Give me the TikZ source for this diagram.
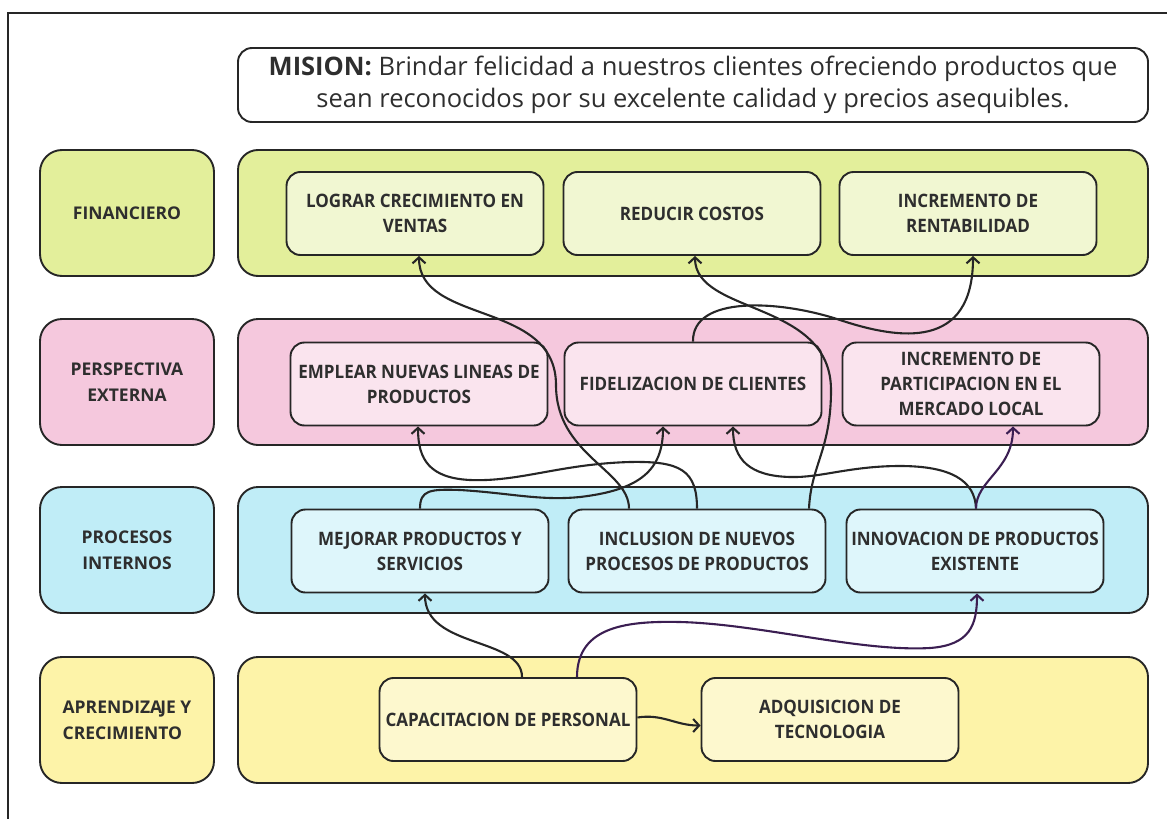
\documentclass[tikz,border=0pt]{standalone}
\usepackage{fontspec}
\setmainfont{Open Sans}
\newfontfamily\condfont[FakeStretch=0.92]{Open Sans}
\usetikzlibrary{arrows.meta}

\definecolor{linec}{HTML}{262626}
\definecolor{txtc}{HTML}{2E2E2E}
\definecolor{purp}{HTML}{3B1E52}
\definecolor{finrow}{HTML}{E3EF9B}
\definecolor{fingoal}{HTML}{F1F7D2}
\definecolor{perrow}{HTML}{F5C8DD}
\definecolor{pergoal}{HTML}{FAE4EE}
\definecolor{prorow}{HTML}{C0EDF7}
\definecolor{progoal}{HTML}{DEF6FB}
\definecolor{aprrow}{HTML}{FDF3A8}
\definecolor{aprgoal}{HTML}{FDF8CE}

\begin{document}
\begin{tikzpicture}[x=1pt,y=-1pt,
    rowbox/.style={draw=linec, line width=1.9pt, rounded corners=20pt, minimum width=910pt, minimum height=126pt},
    tagbox/.style={draw=linec, line width=1.9pt, rounded corners=22pt, minimum width=174pt, minimum height=126pt,
        text=txtc, font=\fontsize{17.5}{26}\selectfont\bfseries, align=center},
    goalbox/.style={draw=linec, line width=1.9pt, rounded corners=14pt, minimum width=257pt, minimum height=83pt,
        text=txtc, font=\fontsize{18.5}{25}\selectfont\condfont\bfseries, align=center},
    link/.style={draw=linec, line width=2.1pt, -{Straight Barb[length=6pt,width=13pt]}}]
        \useasboundingbox (0,0) rectangle (1167,819);

        % Frame
        \draw[linec, line width=1.6pt] (8,819) -- (8,13) -- (1167,13);

        % Mission
        \node[draw=linec, line width=1.9pt, rounded corners=14pt, minimum width=910pt, minimum height=74pt,
            text=txtc, font=\fontsize{25.5}{32}\selectfont, align=center] (mision) at (693,85)
            {\textbf{MISION:} Brindar felicidad a nuestros clientes ofreciendo productos que\\
             sean reconocidos por su excelente calidad y precios asequibles.};

        % Perspectives (left column)
        \node[tagbox, fill=finrow] (tagfin) at (127,213) {FINANCIERO};
        \node[tagbox, fill=perrow] (tagper) at (127,382) {PERSPECTIVA\\EXTERNA};
        \node[tagbox, fill=prorow] (tagpro) at (127,550) {PROCESOS\\INTERNOS};
        \node[tagbox, fill=aprrow, align=left] (tagapr) at (127,720) {APRENDIZA\kern-2pt JE Y\\CRECIMIENTO};

        % Rows
        \node[rowbox, fill=finrow] (rowfin) at (693,213) {};
        \node[rowbox, fill=perrow] (rowper) at (693,382) {};
        \node[rowbox, fill=prorow] (rowpro) at (693,550) {};
        \node[rowbox, fill=aprrow] (rowapr) at (693,720) {};

        % Objectives
        \node[goalbox, fill=fingoal] (logr) at (415,213.5) {LOGRAR CRECIMIENTO EN\\VENTAS};
        \node[goalbox, fill=fingoal] (redu) at (692,213.5) {REDUCIR COSTOS};
        \node[goalbox, fill=fingoal] (rent) at (968,213.5) {INCREMENTO DE\\RENTABILIDAD};

        \node[goalbox, fill=pergoal] (empl) at (419,384) {EMPLEAR NUEVAS LINEAS DE\\PRODUCTOS};
        \node[goalbox, fill=pergoal] (fide) at (693,384) {FIDELIZACION DE CLIENTES};
        \node[goalbox, fill=pergoal] (part) at (971,384) {INCREMENTO DE\\PARTICIPACION EN EL\\MERCADO LOCAL};

        \node[goalbox, fill=progoal] (mejo) at (420,551) {MEJORAR PRODUCTOS Y\\SERVICIOS};
        \node[goalbox, fill=progoal] (incl) at (697,551) {INCLUSION DE NUEVOS\\PROCESOS DE PRODUCTOS};
        \node[goalbox, fill=progoal] (inno) at (975,551) {INNOVACION DE PRODUCTOS\\EXISTENTE};

        \node[goalbox, fill=aprgoal] (capa) at (508,719.5) {CAPACITACION DE PERSONAL};
        \node[goalbox, fill=aprgoal] (adqu) at (830,719.5) {ADQUISICION DE\\TECNOLOGIA};

        % Links from aprendizaje
        \draw[link] ([xshift=14pt]capa.north) .. controls +(0,-40) and +(0,55) .. ([xshift=5pt]mejo.south);
        \draw[link, draw=purp] ([xshift=69pt]capa.north) .. controls (577,625) and (630,621) .. (680,622)
            .. controls (760,624) and (860,652) .. (930,648) .. controls (970,645) and (977,625) .. ([xshift=2pt]inno.south);
        \draw[link] ([yshift=2pt]capa.east) .. controls +(25,-4) and +(-25,0) .. ([yshift=-6pt]adqu.west);

        % Links from procesos
        \draw[link] (mejo.north) .. controls (420,490) and (430,489) .. (460,490) .. controls (510,493) and (540,501) .. (580,497)
            .. controls (640,490) and (663,470) .. ([xshift=-30pt]fide.south);
        \draw[link] ([xshift=-68pt]incl.north) .. controls (629,470) and (556,455) .. (556,385)
            .. controls (556,300) and (419,325) .. ([xshift=4pt]logr.south);
        \draw[link] (incl.north) .. controls (697,470) and (680,461) .. (630,462) .. controls (560,464) and (520,482) .. (470,480)
            .. controls (430,478) and (418,460) .. ([xshift=-1pt]empl.south);
        \draw[link] ([xshift=112pt]incl.north) .. controls (811,465) and (831,450) .. (831,390)
            .. controls (831,300) and (695,315) .. ([xshift=3pt]redu.south);
        \draw[link] ([xshift=1pt]inno.north) .. controls (975,480) and (950,466) .. (900,466) .. controls (850,466) and (820,478) .. (790,477)
            .. controls (750,476) and (733,460) .. ([xshift=40pt]fide.south);
        \draw[link, draw=purp] ([xshift=1pt]inno.north) .. controls (976,480) and (1013,470) .. ([xshift=42pt]part.south);

        % Link from perspectiva
        \draw[link] (fide.north) .. controls (692,295) and (780,300) .. (840,320) .. controls (900,340) and (973,350) .. ([xshift=5pt]rent.south);

    \end{tikzpicture}
\end{document}
